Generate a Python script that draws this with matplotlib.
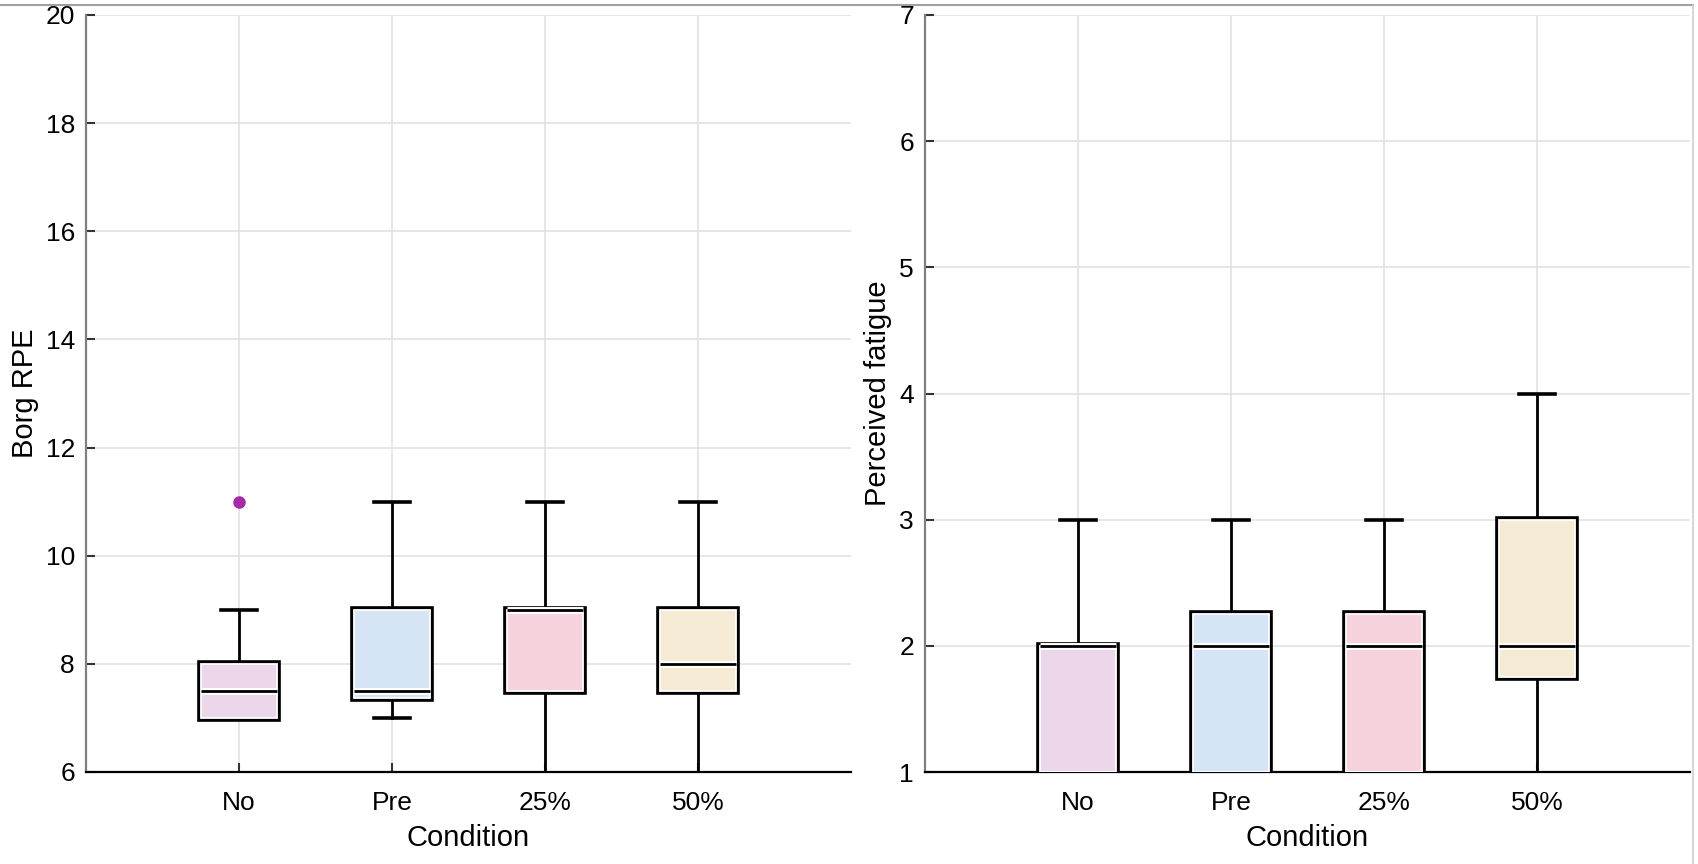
"""Box plots of Borg RPE and perceived fatigue per condition."""

import matplotlib
matplotlib.use("Agg")
import matplotlib.pyplot as plt
import matplotlib.patheffects as pe
from matplotlib.lines import Line2D

plt.rcParams['font.family'] = ['Liberation Sans', 'DejaVu Sans']

conditions = ["No", "Pre", "25%", "50%"]
colors = ["#ecd6ea", "#d5e5f5", "#f6d3dc", "#f5ead4"]

# Borg RPE summary stats
rpe_whislo = [7, 7, 6, 6]
rpe_q1 = [7, 7.375, 7.5, 7.5]
rpe_med = [7.5, 7.5, 9, 8]
rpe_q3 = [8, 9, 9, 9]
rpe_whishi = [9, 11, 11, 11]
rpe_fliers = [[11], [], [], []]

# Perceived fatigue summary stats
fat_whislo = [1, 1, 1, 1]
fat_q1 = [1, 1, 1, 1.75]
fat_med = [2, 2, 2, 2]
fat_q3 = [2, 2.25, 2.25, 3]
fat_whishi = [3, 3, 3, 4]
fat_fliers = [[], [], [], []]


def make_stats(lo, q1, med, q3, hi, fliers):
    return [dict(whislo=a, q1=b, med=c, q3=d, whishi=e, fliers=f, label=lab)
            for a, b, c, d, e, f, lab in zip(lo, q1, med, q3, hi, fliers, conditions)]


def draw_panel(ax, stats, ylim, yticks, ylabel):
    bp = ax.bxp(stats, positions=range(1, len(stats) + 1), widths=0.5,
                patch_artist=True, manage_ticks=False,
                boxprops=dict(edgecolor="white", linewidth=1.3),
                whiskerprops=dict(color="black", linewidth=2.0),
                capprops=dict(color="black", linewidth=2.6),
                medianprops=dict(color="black", linewidth=2.0),
                flierprops=dict(marker="o", markerfacecolor="#a42aa6",
                                markeredgecolor="#a42aa6", markersize=8),
                capwidths=0.24)
    for box, c in zip(bp["boxes"], colors):
        box.set_facecolor(c)
        box.set_path_effects([pe.Stroke(linewidth=5.5, foreground="black"), pe.Normal()])
        box.set_zorder(3)
    for m in bp["medians"]:
        m.set_path_effects([pe.Stroke(linewidth=5, foreground="white"), pe.Normal()])
        m.set_zorder(4)
    for f in bp["fliers"]:
        f.set_zorder(5)
    # caps that sit on the bottom axis are hidden in the original
    for cap in bp["caps"]:
        if cap.get_ydata()[0] <= ylim[0]:
            cap.set_visible(False)

    ax.set_xlim(0, 5)
    ax.set_ylim(*ylim)
    ax.set_xticks(range(1, len(conditions) + 1))
    ax.set_xticklabels(conditions)
    ax.set_yticks(yticks)
    ax.grid(True, color="#e2e2e2", linewidth=1.2, zorder=0)
    ax.set_axisbelow(True)
    ax.tick_params(axis="both", direction="in", labelsize=19, length=6.5,
                   width=1.5, color="#333333")
    ax.tick_params(axis="x", pad=14)
    ax.tick_params(axis="y", pad=8)
    for s in ["top", "right"]:
        ax.spines[s].set_visible(False)
    ax.spines["left"].set_color("#808080")
    ax.spines["left"].set_linewidth(1.6)
    ax.spines["bottom"].set_color("black")
    ax.spines["bottom"].set_linewidth(1.6)
    ax.set_xlabel("Condition", fontsize=21, labelpad=6)
    ax.set_ylabel(ylabel, fontsize=21, labelpad=5)


fig = plt.figure(figsize=(16.98, 8.64), dpi=100)
ax1 = fig.add_axes([86 / 1698, 1 - 772 / 864, 765 / 1698, 757 / 864])
ax2 = fig.add_axes([925 / 1698, 1 - 772 / 864, 765 / 1698, 757 / 864])

draw_panel(ax1, make_stats(rpe_whislo, rpe_q1, rpe_med, rpe_q3, rpe_whishi, rpe_fliers),
           (6, 20), range(6, 21, 2), "Borg RPE")
draw_panel(ax2, make_stats(fat_whislo, fat_q1, fat_med, fat_q3, fat_whishi, fat_fliers),
           (1, 7), range(1, 8), "Perceived fatigue")

# thin frame lines at the top and right of the figure
fig.add_artist(Line2D([0, 1693 / 1698], [1 - 5 / 864, 1 - 5 / 864], color="#a0a0a0", lw=1.5))
fig.add_artist(Line2D([1693 / 1698, 1693 / 1698], [0, 1 - 5 / 864], color="#d0d0d0", lw=1.2))

fig.savefig("out.png", dpi=100)
